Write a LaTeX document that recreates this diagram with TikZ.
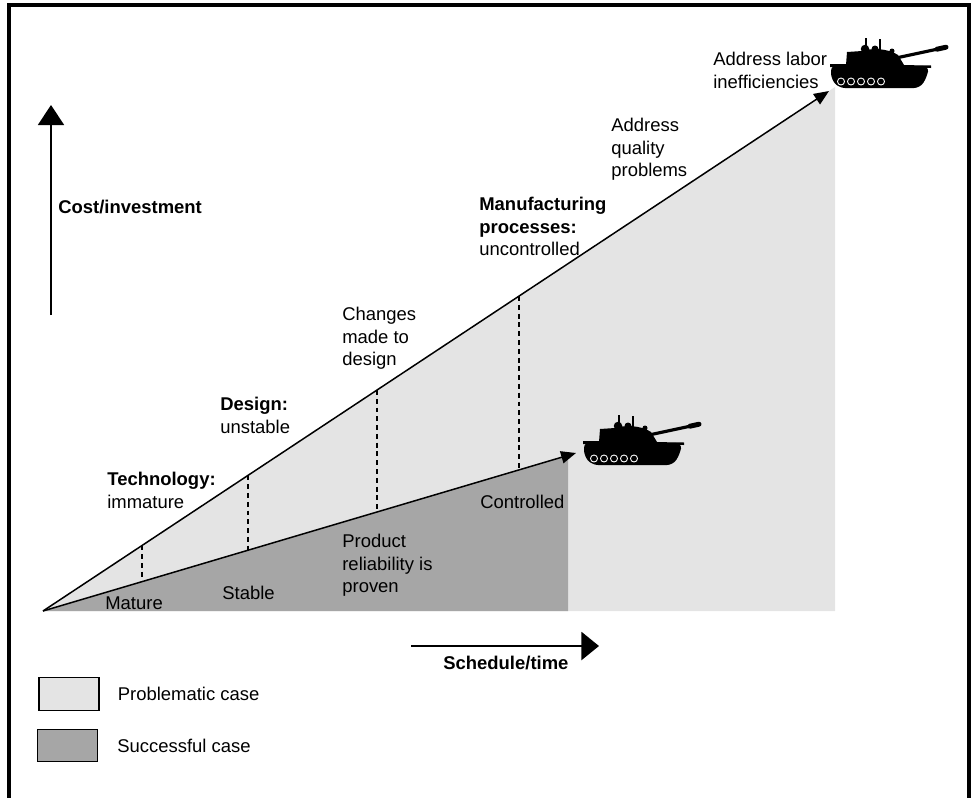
\documentclass[tikz,border=0pt]{standalone}
\usepackage{fontspec}
\setmainfont{Liberation Sans}
\usetikzlibrary{arrows.meta,positioning}

\definecolor{problemgray}{gray}{0.894}
\definecolor{successgray}{gray}{0.65}

\tikzset{
  lbl/.style={inner sep=0pt, align=left, font=\fontsize{10.5}{12.8}\selectfont},
  blbl/.style={lbl, font=\fontsize{10.5}{12.8}\selectfont\bfseries},
  axis/.style={line width=1pt, -{Triangle[width=14.8pt,length=11.4pt]}},
  slope/.style={line width=0.85pt, -{Triangle[width=7pt,length=8.5pt]}},
  marker/.style={line width=0.6pt, dash pattern=on 2.8pt off 2.2pt},
  legbox/.style={draw, line width=0.6pt, inner sep=0pt, minimum width=1.2cm, minimum height=0.65cm},
  tank/.pic={
    % hull and tracks
    \fill[rounded corners=0.12cm] (1,27) -- (99,28) -- (97,39) -- (90,50) -- (9,50) -- (1,41) -- cycle;
    \fill (0,26) -- (101,27.5) -- (101,30) -- (0,29) -- cycle;
    % turret
    \fill (16,27) -- (17,14) -- (32,13) .. controls (40,10) and (58,10) .. (68,17) -- (74,27) -- cycle;
    % hatches and crew
    \fill (35,11) circle (0.085cm) (45,11) circle (0.07cm) (62,13) circle (0.05cm);
    \draw[line width=0.6pt] (36,12) -- (36,0) (50,12) -- (50,1);
    % gun
    \draw[line width=1.8pt] (66,20) -- (108,11);
    \draw[line width=2.8pt, line cap=round] (107,11.2) -- (116,9.2);
    % road wheels
    \foreach \w in {11,21,...,51}
      \draw[white, line width=0.5pt] (\w,43.5) circle (0.07cm);
  }
}

\begin{document}
\begin{tikzpicture}[x=0.02cm,y=-0.02cm]
  \useasboundingbox (0,0) rectangle (975,798);

  % frame
  \draw[line width=2pt] (9,798) -- (9,5) -- (969,5) -- (969,798);

  \coordinate (o)  at (43,611);
  \coordinate (hi) at (829,91);
  \coordinate (lo) at (576,453);

  % shaded cases
  \fill[problemgray] (o) -- (835,87) -- (835,611) -- cycle;
  \fill[successgray] (o) -- (568,455.4) -- (568,611) -- cycle;

  % milestones
  \foreach \x/\u/\l in {142/545.5/581.7, 248/475.4/550.2, 377/390.0/512.0, 519/296.1/469.9}
    \draw[marker] (\x,\u) -- (\x,\l);

  \draw[slope] (o) -- (hi);
  \draw[slope] (o) -- (lo);

  % axes
  \coordinate (c0) at (51,315);
  \coordinate (c1) at (51,105);
  \draw[axis] (c0) -- (c1);
  \coordinate (t0) at (411,646);
  \coordinate (t1) at (599,646);
  \draw[line width=1pt, -{Triangle[width=16pt,length=10pt]}] (t0) -- (t1);

  \node[blbl, anchor=west] (cost) at (58,207) {Cost/investment};
  \node[blbl, anchor=west] (time) at (443,663) {Schedule/time};

  % problematic case
  \node[lbl, anchor=north west] (tech)   at (107,472) {\textbf{Technology:}\\immature};
  \node[lbl, anchor=north west] (design) at (220,397) {\textbf{Design:}\\unstable};
  \node[lbl, anchor=north west] (change) at (342,307) {Changes\\made to\\design};
  \node[lbl, anchor=north west] (manuf)  at (479,197) {\textbf{Manufacturing}\\\textbf{processes:}\\uncontrolled};
  \node[lbl, anchor=north west] (qual)   at (611,118) {Address\\quality\\problems};
  \node[lbl, anchor=north west] (labor)  at (713,52)  {Address labor\\inefficiencies};

  % successful case
  \node[lbl, anchor=west] (mature) at (105,603) {Mature};
  \node[lbl, anchor=west] (stable) at (222,593) {Stable};
  \node[lbl, anchor=north west] (proven) at (342,534) {Product\\reliability is\\proven};
  \node[lbl, anchor=west] (ctrl) at (480,502) {Controlled};

  \pic at (830,38)  {tank};
  \pic at (583,415) {tank};

  % legend
  \node[legbox, fill=problemgray] (pbox) at (69,694) {};
  \node[legbox, fill=successgray] (sbox) at (67.5,745.5) {};
  \node[lbl, right=0.36cm of pbox] (ptext) {Problematic case};
  \node[lbl, right=0.38cm of sbox] (stext) {Successful case};
\end{tikzpicture}
\end{document}
